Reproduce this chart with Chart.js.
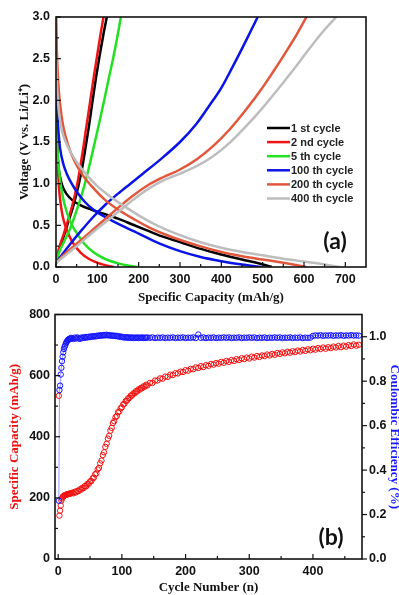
<!DOCTYPE html>
<html>
<head>
<meta charset="utf-8">
<script src="https://cdn.jsdelivr.net/npm/chart.js@4.4.0/dist/chart.umd.min.js"></script>
<style>
html,body{margin:0;padding:0;background:#fff;width:399px;height:595px;overflow:hidden;}
canvas{position:absolute;left:0;}
#chartA{top:0;}
#chartB{top:300px;}
</style>
</head>
<body>
<canvas id="chartA" width="399" height="310"></canvas>
<canvas id="chartB" width="399" height="295"></canvas>
<script>
// ---- panel (a): voltage profiles, [capacity mAh/g, voltage V]
var cycleLabels = ['1 st cycle','2 nd cycle','5 th cycle','100 th cycle','200 th cycle','400 th cycle'];
var cycleColors = ['#000000','#f01414','#22e022','#0a14e6','#e2573c','#bdbdbd'];

var cycle1Discharge = [[0,2.3],[1,1.85],[2.5,1.5],[5,1.25],[9,1.1],[15,0.98],[25,0.88],[40,0.8],[60,0.74],[85,0.69],[115,0.64],[150,0.58],[185,0.51],[220,0.44],[255,0.37],[300,0.3],[348,0.22],[400,0.15],[450,0.09],[490,0.045],[522,0]];
var cycle1Charge = [[0,0.05],[6,0.18],[18,0.36],[31,0.56],[44,0.77],[55,0.99],[64,1.21],[72,1.45],[80,1.7],[88,1.98],[97,2.28],[106,2.55],[115,2.8],[123,3.0]];
var cycle2Discharge = [[0,3.0],[1,2.2],[2,1.7],[4,1.3],[7,0.97],[12,0.73],[18,0.57],[28,0.42],[41,0.29],[60,0.17],[82,0.09],[110,0.035],[140,0]];
var cycle2Charge = [[0,0.05],[6,0.2],[17,0.37],[29,0.56],[40,0.75],[50,0.96],[58,1.18],[66,1.43],[74,1.7],[83,2.0],[92,2.3],[100,2.55],[108,2.8],[115,3.0]];
var cycle5Discharge = [[0,2.1],[2,1.6],[5,1.3],[10,1.04],[17,0.83],[26,0.66],[37,0.52],[50,0.41],[70,0.27],[90,0.18],[115,0.105],[146,0.05],[170,0.02],[196,0]];
var cycle5Charge = [[0,0.05],[8,0.18],[20,0.31],[34,0.46],[50,0.68],[66,0.93],[80,1.2],[94,1.5],[106,1.76],[117,2.01],[128,2.27],[138,2.5],[148,2.75],[157,3.0]];
var cycle100Discharge = [[0,2.4],[3,1.9],[6,1.62],[10,1.42],[17,1.25],[26,1.12],[38,1.0],[52,0.89],[70,0.78],[90,0.69],[115,0.61],[146,0.53],[200,0.4],[251,0.28],[300,0.19],[350,0.12],[400,0.07],[450,0.03],[497,0]];
var cycle100Charge = [[0,0.05],[15,0.15],[35,0.28],[60,0.43],[90,0.6],[120,0.75],[150,0.88],[180,1.0],[210,1.12],[250,1.28],[300,1.5],[340,1.72],[370,1.93],[400,2.15],[425,2.38],[450,2.62],[470,2.82],[488,3.0]];
var cycle200Discharge = [[0,3.0],[2,2.6],[5,2.25],[10,1.95],[17,1.7],[30,1.45],[45,1.27],[65,1.1],[90,0.95],[120,0.8],[150,0.69],[190,0.57],[227,0.47],[280,0.36],[348,0.25],[400,0.18],[450,0.13],[500,0.09],[550,0.05],[580,0.025],[605,0]];
var cycle200Charge = [[0,0.05],[20,0.15],[50,0.28],[90,0.45],[120,0.58],[150,0.71],[190,0.87],[225,0.99],[260,1.08],[300,1.17],[340,1.29],[380,1.45],[420,1.65],[460,1.89],[495,2.12],[525,2.34],[555,2.57],[580,2.77],[606,3.0]];
var cycle400Discharge = [[0,2.5],[3,2.1],[8,1.82],[15,1.62],[30,1.43],[50,1.26],[75,1.1],[100,0.97],[130,0.85],[165,0.73],[200,0.62],[240,0.51],[290,0.4],[348,0.3],[400,0.23],[450,0.18],[500,0.14],[550,0.1],[600,0.065],[650,0.03],[686,0]];
var cycle400Charge = [[0,0.05],[20,0.13],[50,0.25],[90,0.42],[120,0.54],[150,0.66],[190,0.82],[227,0.95],[260,1.04],[300,1.12],[340,1.21],[380,1.33],[420,1.49],[460,1.69],[500,1.91],[530,2.09],[570,2.34],[610,2.6],[645,2.82],[678,3.0]];

var capacityTicks = [0,100,200,300,400,500,600,700];
var voltageTicks = [0,0.5,1.0,1.5,2.0,2.5,3.0];

// ---- panel (b): cycling
var cycleNumbers = [1,2,3,4,5,6,7,8,9,10,11,12,13,14,15,16,17,18,19,20,
  22,24,26,28,30,32,34,36,38,40,
  42,44,46,48,50,52,54,56,58,60,
  62,64,66,68,70,72,74,76,78,80,
  82,84,86,88,90,92,94,96,98,100,
  102,104,106,108,110,112,114,116,118,120,
  122,124,126,128,130,132,134,136,138,140,
  144,148,152,156,160,164,168,172,176,180,
  184,188,192,196,200,204,208,212,216,220,
  224,228,232,236,240,244,248,252,256,260,
  264,268,272,276,280,284,288,292,296,300,
  304,308,312,316,320,324,328,332,336,340,
  344,348,352,356,360,364,368,372,376,380,
  384,388,392,396,400,404,408,412,416,420,
  424,428,432,436,440,444,448,452,456,460,
  464,468,472];
var specificCapacity = [534,142,158,175,191,198,203,205,207,208,209,210,211,211,212,213,213,214,214,215,
  217,215,220,218,223,222,228,227,233,232,
  239,238,246,246,254,255,264,266,277,280,
  293,298,313,322,340,349,367,377,394,403,
  420,429,445,451,464,468,480,483,493,496,
  506,508,517,518,526,527,535,535,542,542,
  549,548,555,554,560,559,565,564,570,568,
  576,576,584,584,591,590,597,596,603,602,
  608,607,613,612,618,616,622,621,627,625,
  631,628,634,632,638,636,641,639,645,642,
  648,645,651,648,654,651,657,654,659,656,
  662,659,664,661,666,664,669,666,671,668,
  674,671,676,673,678,675,680,677,682,679,
  684,681,686,683,688,685,690,687,692,688,
  693,690,695,692,697,693,698,695,700,697,
  702,698,701];
var coulombicEff = [0.262,0.76,0.78,0.83,0.86,0.89,0.91,0.93,0.945,0.955,0.96,0.97,0.975,0.98,0.985,0.985,0.99,0.99,0.99,0.995,
  0.993,0.99,0.996,0.992,0.997,0.993,0.99,0.996,0.994,0.998,
  0.995,0.999,0.997,1.0,0.998,1.002,1.0,1.003,1.001,1.004,
  1.003,1.006,1.004,1.007,1.005,1.008,1.006,1.009,1.006,1.007,
  1.005,1.006,1.004,1.005,1.003,1.004,1.001,1.002,0.999,1.0,
  0.997,0.998,0.996,0.998,0.995,0.997,0.995,0.997,0.994,0.996,
  0.995,0.997,0.994,0.996,0.995,0.997,0.994,0.996,0.995,0.997,
  0.995,0.997,0.994,0.996,0.995,0.997,0.994,0.996,0.995,0.997,
  0.994,0.996,0.995,0.997,0.994,0.996,0.995,0.997,0.994,1.01,
  0.995,0.997,0.994,0.996,0.995,0.997,0.994,0.996,0.995,0.997,
  0.995,0.997,0.994,0.996,0.995,0.997,0.994,0.996,0.995,0.997,
  0.995,0.997,0.994,0.996,0.995,0.997,0.994,0.996,0.995,0.997,
  0.995,0.997,0.994,0.996,0.995,0.997,0.994,0.996,0.995,0.997,
  0.994,0.996,0.995,0.996,1.004,1.006,1.005,1.007,1.004,1.006,
  1.005,1.007,1.004,1.006,1.005,1.007,1.004,1.006,1.005,1.007,
  1.005,1.006,1.005];

var cycleTicks = [0,100,200,300,400];
var capTicksB = [0,200,400,600,800];
var ceTicks = [0,0.2,0.4,0.6,0.8,1.0];

Chart.defaults.font.family = '"Liberation Sans", Arial, sans-serif';
Chart.defaults.color = '#111';

var tickFont = {size: 12.5, weight: 'bold'};
var titleFont = {family: '"Liberation Serif", "Times New Roman", serif', size: 13, weight: 'bold'};

function toPts(arr){ return arr.map(function(p){ return {x: p[0], y: p[1]}; }); }
function setTicks(list){ return function(s){ s.ticks = list.map(function(v){ return {value: v}; }); }; }

// frame + small tick marks, legend and panel letter
var frameTicks = {
  id: 'frameTicks',
  afterDatasetsDraw: function(chart, args, opts){
    var ctx = chart.ctx, a = chart.chartArea;
    ctx.save();
    ctx.strokeStyle = '#111';
    ctx.lineWidth = 1.2;
    (opts.marks || []).forEach(function(m){
      var s = chart.scales[m.axis];
      var step = m.ticks[1] - m.ticks[0];
      var vals = [];
      m.ticks.forEach(function(v){ vals.push([v, 5]); if (v + step/2 < s.max) vals.push([v + step/2, 3]); });
      vals.forEach(function(t){
        var p = s.getPixelForValue(t[0]);
        ctx.beginPath();
        if (m.side === 'bottom') { ctx.moveTo(p, a.bottom); ctx.lineTo(p, a.bottom - t[1]); }
        else if (m.side === 'left') { ctx.moveTo(a.left, p); ctx.lineTo(a.left + t[1], p); }
        else { ctx.moveTo(a.right, p); ctx.lineTo(a.right + t[1], p); }
        ctx.stroke();
      });
    });
    ctx.lineWidth = 1.6;
    ctx.strokeRect(a.left, a.top, a.right - a.left, a.bottom - a.top);
    ctx.restore();
  },
  afterDraw: function(chart, args, opts){
    var ctx = chart.ctx, a = chart.chartArea;
    ctx.save();
    if (opts.legend) {
      ctx.font = 'bold 11px "Liberation Sans", Arial, sans-serif';
      ctx.textBaseline = 'middle';
      ctx.fillStyle = '#222';
      opts.legend.labels.forEach(function(lab, i){
        var y = a.top + 111 + i * 14.1;
        ctx.strokeStyle = opts.legend.colors[i];
        ctx.lineWidth = 2.5;
        ctx.beginPath(); ctx.moveTo(a.right - 99, y); ctx.lineTo(a.right - 76, y); ctx.stroke();
        ctx.fillText(lab, a.right - 75, y + 0.5);
      });
    }
    if (opts.panel) {
      ctx.font = 'bold 23px Lato, "Open Sans", sans-serif';
      ctx.fillStyle = '#111';
      ctx.textAlign = 'center';
      ctx.textBaseline = 'middle';
      ctx.fillText(opts.panel.text, a.right - 31, a.bottom - opts.panel.dy);
    }
    ctx.restore();
  }
};

var curveSets = [
  [cycle1Discharge, cycle1Charge], [cycle2Discharge, cycle2Charge], [cycle5Discharge, cycle5Charge],
  [cycle100Discharge, cycle100Charge], [cycle200Discharge, cycle200Charge], [cycle400Discharge, cycle400Charge]
];
var dsA = [];
curveSets.forEach(function(pair, i){
  pair.forEach(function(curve){
    dsA.push({
      label: cycleLabels[i],
      data: toPts(curve),
      showLine: true,
      borderColor: cycleColors[i],
      borderWidth: 2.5,
      pointRadius: 0,
      cubicInterpolationMode: 'monotone',
      order: 10 - i
    });
  });
});

new Chart(document.getElementById('chartA'), {
  type: 'scatter',
  data: {datasets: dsA},
  options: {
    responsive: false,
    animation: false,
    layout: {padding: {top: 17, right: 33, left: 0, bottom: 0}},
    plugins: {
      legend: {display: false},
      tooltip: {enabled: false},
      frameTicks: {
        marks: [
          {axis: 'x', side: 'bottom', ticks: capacityTicks},
          {axis: 'y', side: 'left', ticks: voltageTicks}
        ],
        legend: {labels: cycleLabels, colors: cycleColors},
        panel: {text: '(a)', dy: 25}
      }
    },
    scales: {
      x: {
        type: 'linear', min: 0, max: 750,
        grid: {display: false, drawTicks: false},
        border: {display: false},
        afterBuildTicks: setTicks(capacityTicks),
        afterFit: function(s){ s.height = 43; },
        ticks: {padding: 5, font: tickFont, autoSkip: false, maxRotation: 0},
        title: {display: true, text: 'Specific Capacity (mAh/g)', font: titleFont, color: '#111', padding: {top: 0, bottom: 5}}
      },
      y: {
        type: 'linear', min: 0, max: 3,
        grid: {display: false, drawTicks: false},
        border: {display: false},
        afterBuildTicks: setTicks(voltageTicks),
        afterFit: function(s){ s.width = 56; },
        ticks: {padding: 6, font: tickFont, autoSkip: false, callback: function(v){ return v.toFixed(1); }},
        title: {display: true, text: 'Voltage (V vs. Li/Li\u207A)', font: titleFont, color: '#111', padding: {top: 17, bottom: 0}}
      }
    }
  },
  plugins: [frameTicks]
});

new Chart(document.getElementById('chartB'), {
  type: 'scatter',
  data: {datasets: [
    {
      label: 'Coulombic Efficiency',
      data: cycleNumbers.map(function(n, i){ return {x: n, y: coulombicEff[i]}; }),
      yAxisID: 'y1',
      showLine: true,
      borderColor: 'rgba(70,70,255,0.7)',
      borderWidth: 0.8,
      pointRadius: 2.7,
      pointBorderWidth: 1,
      pointBorderColor: '#1414ff',
      pointBackgroundColor: 'rgba(255,255,255,0)'
    },
    {
      label: 'Specific Capacity',
      data: cycleNumbers.map(function(n, i){ return {x: n, y: specificCapacity[i]}; }),
      yAxisID: 'y',
      showLine: false,
      pointRadius: 2.7,
      pointBorderWidth: 1,
      pointBorderColor: '#f01010',
      pointBackgroundColor: 'rgba(255,255,255,0)'
    }
  ]},
  options: {
    responsive: false,
    animation: false,
    layout: {padding: {top: 12, right: 0, left: 0, bottom: 0}},
    plugins: {
      legend: {display: false},
      tooltip: {enabled: false},
      frameTicks: {
        marks: [
          {axis: 'x', side: 'bottom', ticks: cycleTicks},
          {axis: 'y', side: 'left', ticks: capTicksB},
          {axis: 'y1', side: 'right', ticks: ceTicks}
        ],
        panel: {text: '(b)', dy: 21}
      }
    },
    scales: {
      x: {
        type: 'linear', min: -5, max: 477,
        grid: {display: false, drawTicks: false},
        border: {display: false},
        afterBuildTicks: setTicks(cycleTicks),
        afterFit: function(s){ s.height = 36; },
        ticks: {padding: 5, font: tickFont, autoSkip: false, maxRotation: 0},
        title: {display: true, text: 'Cycle Number (n)', font: titleFont, color: '#111', padding: {top: 0, bottom: 0}}
      },
      y: {
        type: 'linear', position: 'left', min: 0, max: 800,
        grid: {display: false, drawTicks: false},
        border: {display: false},
        afterBuildTicks: setTicks(capTicksB),
        afterFit: function(s){ s.width = 55; },
        ticks: {padding: 5, font: tickFont, autoSkip: false},
        title: {display: true, text: 'Specific Capacity (mAh/g)', font: titleFont, color: '#ee1111', padding: {top: 7, bottom: 0}}
      },
      y1: {
        type: 'linear', position: 'right', min: 0, max: 1.1,
        grid: {display: false, drawTicks: false},
        border: {display: false},
        afterBuildTicks: setTicks(ceTicks),
        afterFit: function(s){ s.width = 37; },
        ticks: {padding: 7, font: tickFont, autoSkip: false, callback: function(v){ return v.toFixed(1); }},
        title: {display: true, text: 'Coulombic Efficiency (%)', font: titleFont, color: '#1a1aff', padding: {top: -3, bottom: 0}}
      }
    }
  },
  plugins: [frameTicks]
});
</script>
</body>
</html>
